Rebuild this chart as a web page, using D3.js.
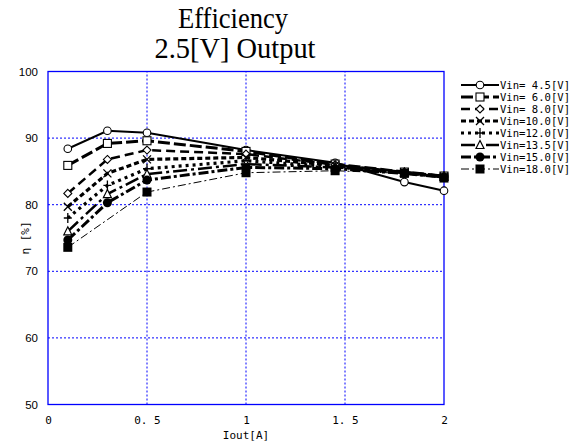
<!DOCTYPE html>
<html>
<head>
<meta charset="utf-8">
<script src="https://cdn.jsdelivr.net/npm/d3@7"></script>
<style>
  html, body { margin: 0; padding: 0; background: #fff; }
  svg { display: block; }
</style>
</head>
<body>
<svg id="chart" width="573" height="444"></svg>
<script>
// Efficiency of the 2.5 V output versus load current, one curve per input voltage
const currents = [0.1, 0.3, 0.5, 1.0, 1.45, 1.8, 2.0];
const seriesNames = ["Vin= 4.5[V]", "Vin= 6.0[V]", "Vin= 8.0[V]", "Vin=10.0[V]",
                     "Vin=12.0[V]", "Vin=13.5[V]", "Vin=15.0[V]", "Vin=18.0[V]"];
const eff4_5  = [88.4, 91.1, 90.8, 88.2, 86.3, 83.4, 82.1];
const eff6_0  = [85.9, 89.2, 89.6, 88.0, 86.1, 84.9, 84.3];
const eff8_0  = [81.7, 86.8, 88.2, 87.6, 86.0, 84.9, 84.3];
const eff10_0 = [79.7, 84.7, 86.8, 87.1, 85.9, 84.8, 84.2];
const eff12_0 = [78.0, 82.9, 85.4, 86.6, 85.7, 84.8, 84.2];
const eff13_5 = [76.0, 81.6, 84.6, 86.1, 85.6, 84.8, 84.2];
const eff15_0 = [74.7, 80.3, 83.7, 85.6, 85.4, 84.7, 84.1];
const eff18_0 = [73.6, null, 81.9, 84.8, 85.1, 84.7, 84.0];
const xTicks = [0, 0.5, 1, 1.5, 2];
const yTicks = [50, 60, 70, 80, 90, 100];

const seriesValues = [eff4_5, eff6_0, eff8_0, eff10_0, eff12_0, eff13_5, eff15_0, eff18_0];

// line and marker style for each curve
const styles = [
  { dash: null,             width: 2,   marker: "circle" },
  { dash: "12,4",           width: 3,   marker: "square" },
  { dash: "9,5",            width: 2.5, marker: "diamond" },
  { dash: "5,3",            width: 3.2, marker: "cross" },
  { dash: "3,4",            width: 3.2, marker: "plus" },
  { dash: "14,4,3,4",       width: 2.5, marker: "triangle" },
  { dash: "10,3,3,3",       width: 3,   marker: "dot" },
  { dash: "8,3,2,3",        width: 1,   marker: "block" }
];

const svg = d3.select("#chart");
const gothic = "'DejaVu Sans Mono', 'Liberation Mono', monospace";
const serif = "'Liberation Serif', 'Times New Roman', serif";

const margin = { left: 48, right: 444, top: 71.5, bottom: 404.5 };
const x = d3.scaleLinear().domain([0, 2]).range([margin.left, margin.right]);
const y = d3.scaleLinear().domain([50, 100]).range([margin.bottom, margin.top]);

const blue = "#0000ff";

// grid
const grid = svg.append("g");
grid.selectAll("line.vx").data(xTicks.filter(d => d > 0 && d < 2)).enter().append("line")
  .attr("x1", d => x(d)).attr("x2", d => x(d))
  .attr("y1", y(50)).attr("y2", y(100))
  .attr("stroke", blue).attr("stroke-width", 1).attr("stroke-dasharray", "2,2");
grid.selectAll("line.hy").data(yTicks.filter(d => d > 50 && d < 100)).enter().append("line")
  .attr("x1", x(0)).attr("x2", x(2))
  .attr("y1", d => y(d)).attr("y2", d => y(d))
  .attr("stroke", blue).attr("stroke-width", 1).attr("stroke-dasharray", "2,2");

// axes (labels only, the frame is drawn below)
const fmtX = d => d === 0 || d === 1 || d === 2 ? String(d) : String(d).replace(".", ". ");
const xAxis = svg.append("g").attr("transform", `translate(0,${y(50)})`)
  .call(d3.axisBottom(x).tickValues(xTicks).tickSize(0).tickPadding(12).tickFormat(fmtX));
const yAxis = svg.append("g").attr("transform", `translate(${x(0)},0)`)
  .call(d3.axisLeft(y).tickValues(yTicks).tickSize(0).tickPadding(10).tickFormat(d3.format("d")));
[xAxis, yAxis].forEach(a => a.select(".domain").remove());
xAxis.selectAll("text").attr("font-family", gothic).attr("font-size", 11).attr("fill", "#000")
  .attr("xml:space", "preserve");
yAxis.selectAll("text").attr("font-family", "'Liberation Sans', Arial, sans-serif")
  .attr("font-size", 11.5).attr("fill", "#000");

// plot frame
svg.append("rect")
  .attr("x", x(0)).attr("y", y(100))
  .attr("width", x(2) - x(0)).attr("height", y(50) - y(100))
  .attr("fill", "none").attr("stroke", blue).attr("stroke-width", 1.3);

// titles (slightly tall serif face)
svg.append("text").attr("transform", "translate(233,28) scale(1,1.12)").attr("text-anchor", "middle")
  .attr("font-family", serif).attr("font-size", 26)
  .attr("textLength", 110).attr("lengthAdjust", "spacingAndGlyphs")
  .text("Efficiency");
svg.append("text").attr("transform", "translate(235,58) scale(1,1.12)").attr("text-anchor", "middle")
  .attr("font-family", serif).attr("font-size", 26)
  .attr("textLength", 161).attr("lengthAdjust", "spacingAndGlyphs")
  .text("2.5[V] Output");

svg.append("text").attr("x", 246).attr("y", 439).attr("text-anchor", "middle")
  .attr("font-family", gothic).attr("font-size", 11).text("Iout[A]");
svg.append("text").attr("transform", `translate(29,${y(75)}) rotate(-90)`)
  .attr("text-anchor", "middle")
  .attr("font-family", gothic).attr("font-size", 11).text("η [%]");

// marker drawing
function drawMarker(g, type, cx, cy) {
  const s = 4;
  switch (type) {
    case "circle":
      g.append("circle").attr("cx", cx).attr("cy", cy).attr("r", 3.8)
        .attr("fill", "#fff").attr("stroke", "#000").attr("stroke-width", 1.1); break;
    case "square":
      g.append("rect").attr("x", cx - s).attr("y", cy - s).attr("width", 2 * s).attr("height", 2 * s)
        .attr("fill", "#fff").attr("stroke", "#000").attr("stroke-width", 1.1); break;
    case "diamond":
      g.append("path").attr("d", `M${cx},${cy - s}L${cx + s},${cy}L${cx},${cy + s}L${cx - s},${cy}Z`)
        .attr("fill", "#fff").attr("stroke", "#000").attr("stroke-width", 1.1); break;
    case "cross":
      g.append("path").attr("d", `M${cx - s},${cy - s}L${cx + s},${cy + s}M${cx - s},${cy + s}L${cx + s},${cy - s}`)
        .attr("stroke", "#000").attr("stroke-width", 1.3); break;
    case "plus":
      g.append("path").attr("d", `M${cx - s},${cy}L${cx + s},${cy}M${cx},${cy - s - 1}L${cx},${cy + s + 1}`)
        .attr("stroke", "#000").attr("stroke-width", 1.3); break;
    case "triangle":
      g.append("path").attr("d", `M${cx},${cy - s - 0.5}L${cx + s},${cy + s - 0.5}L${cx - s},${cy + s - 0.5}Z`)
        .attr("fill", "#fff").attr("stroke", "#000").attr("stroke-width", 1.2); break;
    case "dot":
      g.append("circle").attr("cx", cx).attr("cy", cy).attr("r", 4.5).attr("fill", "#000"); break;
    case "block":
      g.append("rect").attr("x", cx - 4.5).attr("y", cy - 4.5).attr("width", 9).attr("height", 9)
        .attr("fill", "#000"); break;
  }
}

// curves
const line = d3.line().x(d => x(d[0])).y(d => y(d[1]));
const plot = svg.append("g");
seriesValues.forEach((vals, i) => {
  const pts = currents.map((c, k) => [c, vals[k]]).filter(p => p[1] !== null);
  const st = styles[i];
  plot.append("path").attr("d", line(pts)).attr("fill", "none")
    .attr("stroke", "#000").attr("stroke-width", st.width)
    .attr("stroke-dasharray", st.dash);
});
seriesValues.forEach((vals, i) => {
  const g = plot.append("g");
  currents.forEach((c, k) => {
    if (vals[k] !== null) drawMarker(g, styles[i].marker, x(c), y(vals[k]));
  });
});

// legend
const legend = svg.append("g");
seriesNames.forEach((name, i) => {
  const ly = 85 + i * 12;
  const st = styles[i];
  legend.append("line").attr("x1", 461).attr("x2", 499).attr("y1", ly).attr("y2", ly)
    .attr("stroke", "#000").attr("stroke-width", st.width)
    .attr("stroke-dasharray", st.dash);
  drawMarker(legend, st.marker, 480, ly);
  legend.append("text").attr("x", 500).attr("y", ly + 4)
    .attr("font-family", gothic).attr("font-size", 11)
    .attr("textLength", 70).attr("lengthAdjust", "spacingAndGlyphs")
    .attr("xml:space", "preserve").text(name);
});
</script>
</body>
</html>
